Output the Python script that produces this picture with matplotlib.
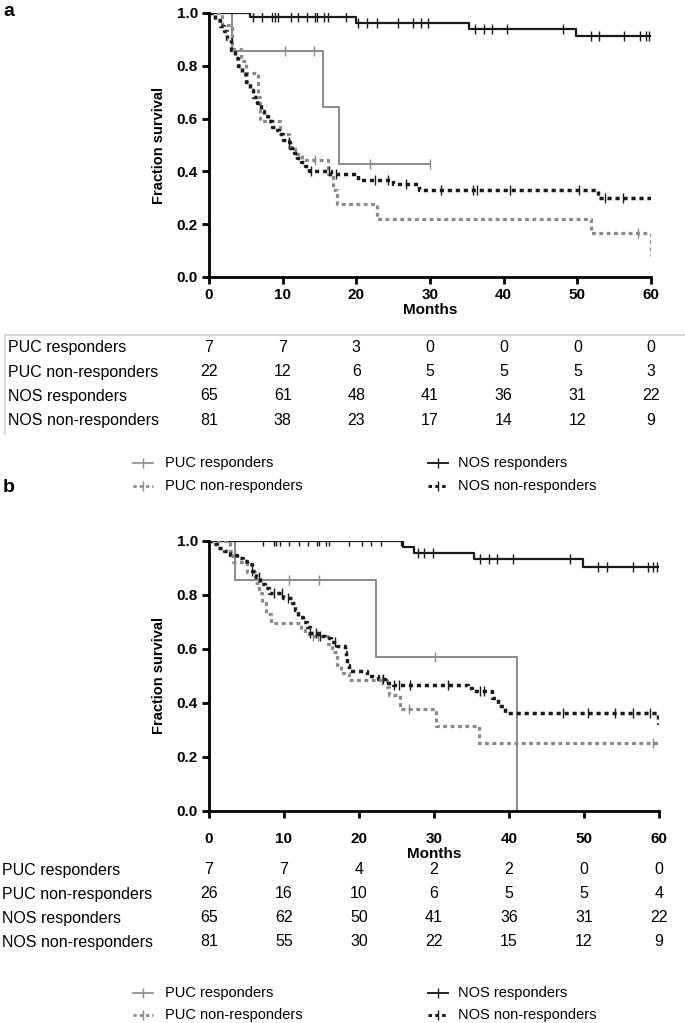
import numpy as np
import matplotlib
matplotlib.use("Agg")
import matplotlib.pyplot as plt
from matplotlib.lines import Line2D
from matplotlib.transforms import blended_transform_factory

plt.rcParams['font.family'] = ['Liberation Sans', 'DejaVu Sans']

W, H = 685, 1023

# ---------------- data ----------------
months = [0, 10, 20, 30, 40, 50, 60]
groups = ["PUC responders", "PUC non-responders", "NOS responders", "NOS non-responders"]

# panel a
a_puc_r_t = [0, 3.1, 15.5, 17.7, 30]
a_puc_r_s = [1.0, 0.857, 0.643, 0.429, 0.429]
a_puc_r_c = [10.3, 14.3, 21.9, 30]

a_puc_n_t = [0, 1.7, 3.1, 4.3, 5.0, 6.6, 6.9, 9.7, 10.9, 11.7, 12.6, 16.2, 16.8, 17.4, 22.8, 51.8, 60]
a_puc_n_s = [1.0, 0.955, 0.864, 0.818, 0.773, 0.682, 0.591, 0.542, 0.492, 0.465, 0.443, 0.39, 0.33, 0.275, 0.22, 0.165, 0.08]
a_puc_n_c = [14.4, 58.3]

a_nos_r_t = [0, 5.5, 20, 35.3, 49.8, 60]
a_nos_r_s = [1.0, 0.985, 0.963, 0.94, 0.912, 0.912]
a_nos_r_c = [6.0, 7.2, 8.5, 8.9, 9.3, 11.1, 12.1, 13.3, 14.4, 14.7, 15.6, 16.2, 18.6,
             20.2, 21.4, 22.8, 25.6, 27.7, 28.8, 29.7, 36.1, 37.3, 38.4, 40.4, 48.0,
             51.8, 52.9, 56.4, 58.5, 59.3, 59.7]

a_nos_n_t = [0, 0.8, 1.5, 2.0, 2.5, 3.0, 3.5, 4.0, 4.5, 5.0, 5.5, 6.0, 6.5, 7.0, 7.5, 8.0,
             8.5, 9.0, 9.5, 10.0, 10.5, 11.0, 11.5, 12.0, 12.5, 13.0, 13.6, 16.5, 20.2,
             25.0, 28.5, 52.8, 60]
a_nos_n_s = [1.0, 0.975, 0.95, 0.93, 0.90, 0.86, 0.83, 0.80, 0.77, 0.74, 0.71, 0.68, 0.66,
             0.63, 0.61, 0.59, 0.57, 0.555, 0.54, 0.52, 0.51, 0.49, 0.47, 0.45, 0.435, 0.42,
             0.40, 0.389, 0.367, 0.351, 0.328, 0.298, 0.298]
a_nos_n_c = [10.8, 13.8, 16.3, 17.3, 22.5, 24.3, 26.8, 31.5, 35.9, 36.4, 40.9, 50.2, 53.7, 56.2]

a_risk = [[7, 7, 3, 0, 0, 0, 0],
          [22, 12, 6, 5, 5, 5, 3],
          [65, 61, 48, 41, 36, 31, 22],
          [81, 38, 23, 17, 14, 12, 9]]

# panel b
b_puc_r_t = [0, 3.4, 22.2, 41.0]
b_puc_r_s = [1.0, 0.857, 0.571, 0.0]
b_puc_r_c = [2.6, 10.6, 14.6, 30.1]

b_puc_n_t = [0, 2.8, 3.2, 5.0, 6.1, 6.6, 7.1, 7.6, 8.2, 12.2, 12.8, 13.3, 15.9, 16.4, 17.0,
             17.6, 18.7, 23.7, 24.0, 25.5, 30.3, 36.0, 60]
b_puc_n_s = [1.0, 0.962, 0.923, 0.885, 0.846, 0.808, 0.769, 0.731, 0.697, 0.672, 0.66, 0.649,
             0.62, 0.59, 0.54, 0.51, 0.486, 0.458, 0.431, 0.378, 0.314, 0.252, 0.252]
b_puc_n_c = [13.8, 14.5, 23.0, 26.6, 59.2]

b_nos_r_t = [0, 25.9, 27.3, 35.3, 49.9, 60]
b_nos_r_s = [1.0, 0.979, 0.957, 0.932, 0.903, 0.903]
b_nos_r_c = [7.2, 8.6, 8.9, 9.4, 10.7, 12.0, 13.2, 14.4, 14.7, 15.6, 16.0, 18.7, 20.4, 21.6,
             22.9, 25.6, 27.9, 28.7, 29.8, 36.1, 37.3, 38.4, 40.5, 48.1, 51.9, 53.1, 56.5,
             58.5, 59.2, 59.7]

b_nos_n_t = [0, 0.5, 1.0, 2.0, 2.8, 3.7, 4.5, 5.0, 5.7, 6.3, 6.8, 7.5, 8.0, 9.8, 11.0, 11.5,
             11.9, 12.5, 13.0, 13.5, 14.5, 15.5, 16.3, 17.0, 18.1, 18.2, 18.4, 18.6, 21.0,
             22.5, 23.5, 24.5, 34.5, 35.0, 37.7, 38.5, 39.5, 59.8, 60]
b_nos_n_s = [1.0, 0.988, 0.975, 0.963, 0.95, 0.938, 0.926, 0.914, 0.89, 0.865, 0.84, 0.825,
             0.807, 0.79, 0.77, 0.745, 0.72, 0.70, 0.68, 0.66, 0.65, 0.64, 0.625, 0.61, 0.59,
             0.565, 0.54, 0.52, 0.50, 0.49, 0.475, 0.467, 0.455, 0.443, 0.42, 0.39, 0.364,
             0.325, 0.325]
b_nos_n_c = [5.7, 6.6, 8.6, 9.7, 10.5, 13.5, 14.2, 14.8, 16.8, 23.2, 24.6, 25.3, 26.8, 31.9,
             36.1, 36.7, 47.2, 50.5, 54.1, 56.5, 58.8]

b_risk = [[7, 7, 4, 2, 2, 0, 0],
          [26, 16, 10, 6, 5, 5, 4],
          [65, 62, 50, 41, 36, 31, 22],
          [81, 55, 30, 22, 15, 12, 9]]

# ---------------- styles ----------------
GRAY = '#8a8a8a'
BLACK = '#1a1a1a'
styles = [
    dict(color=GRAY, lw=1.4, ls='-'),
    dict(color=GRAY, lw=2.3, ls=(0, (1.2, 1.1))),
    dict(color=BLACK, lw=1.6, ls='-'),
    dict(color=BLACK, lw=2.5, ls=(0, (1.2, 1.1))),
]


def fx(px):
    return px / W


def fy(py):
    return 1 - py / H


def km(ax, t, s, c, st):
    t = np.asarray(t); s = np.asarray(s); c = np.asarray(c)
    ax.step(t, s, where='post', color=st['color'], lw=st['lw'], ls=st['ls'],
            solid_capstyle='butt', dash_capstyle='butt')
    cy = s[np.searchsorted(t, c, side='right') - 1]
    ax.plot(c, cy, ls='none', marker='|', ms=7, mew=1.0, color=st['color'])


def setup(ax, xpad, mpad):
    ax.set_xlim(0, 60)
    ax.set_ylim(0, 1.0)
    ax.set_xticks(months)
    ax.set_yticks([0.0, 0.2, 0.4, 0.6, 0.8, 1.0])
    ax.set_yticklabels(['0.0', '0.2', '0.4', '0.6', '0.8', '1.0'])
    for sp in ['top', 'right']:
        ax.spines[sp].set_visible(False)
    for sp in ['left', 'bottom']:
        ax.spines[sp].set_linewidth(2.0)
    ax.tick_params(width=2.0, length=5, labelsize=11, pad=3)
    ax.tick_params(axis='x', pad=xpad)
    for lab in ax.get_xticklabels() + ax.get_yticklabels():
        lab.set_fontweight('bold')
    ax.set_ylabel('Fraction survival', fontsize=10.5, fontweight='bold', labelpad=8)
    ax.set_xlabel('Months', fontsize=11, fontweight='bold', labelpad=mpad)


def risk_table(ax, risk, rows_py, label_px):
    tr = blended_transform_factory(ax.transData, fig.transFigure)
    for r, (name, vals) in enumerate(zip(groups, risk)):
        fig.text(fx(label_px), fy(rows_py[r]), name, fontsize=11.5, va='center', ha='left')
        for m, v in zip(months, vals):
            ax.text(m, fy(rows_py[r]), str(v), transform=tr, fontsize=11.5,
                    va='center', ha='center', clip_on=False)


def legend(rows_py):
    cols = [(133, 153, 165), (428, 448, 458)]
    order = [(0, 0, 0), (1, 0, 1), (2, 1, 0), (3, 1, 1)]
    for gi, ci, ri in order:
        x0, x1, xt = cols[ci]
        st = styles[gi]
        y = fy(rows_py[ri])
        fig.add_artist(Line2D([fx(x0), fx(x1)], [y, y], transform=fig.transFigure,
                              color=st['color'], lw=st['lw'] * 0.85, ls=st['ls']))
        fig.add_artist(Line2D([fx((x0 + x1) / 2)], [y], transform=fig.transFigure,
                              marker='|', ms=7, mew=1.0, color=st['color'], ls='none'))
        fig.text(fx(xt), y, groups[gi], fontsize=10.5, va='center', ha='left')


fig = plt.figure(figsize=(W / 100, H / 100), dpi=100)

# panel a
ax_a = fig.add_axes([fx(209), fy(277), fx(442), 264 / H])
km(ax_a, a_puc_r_t, a_puc_r_s, a_puc_r_c, styles[0])
km(ax_a, a_nos_r_t, a_nos_r_s, a_nos_r_c, styles[2])
km(ax_a, a_puc_n_t, a_puc_n_s, a_puc_n_c, styles[1])
km(ax_a, a_nos_n_t, a_nos_n_s, a_nos_n_c, styles[3])
setup(ax_a, 3, 0.5)
risk_table(ax_a, a_risk, [348, 372, 396, 420], 8)
fig.add_artist(Line2D([fx(5), fx(684)], [fy(335), fy(335)], transform=fig.transFigure,
                      color='#cfcfcf', lw=1.2))
fig.add_artist(Line2D([fx(5), fx(5)], [fy(335), fy(434)], transform=fig.transFigure,
                      color='#cfcfcf', lw=1.2))
legend([463, 486])
fig.text(fx(3), fy(12), 'a', fontsize=14, fontweight='bold', va='center', ha='left')

# panel b
ax_b = fig.add_axes([fx(209), fy(811), fx(450), 270 / H])
km(ax_b, b_puc_r_t, b_puc_r_s, b_puc_r_c, styles[0])
km(ax_b, b_nos_r_t, b_nos_r_s, b_nos_r_c, styles[2])
km(ax_b, b_puc_n_t, b_puc_n_s, b_puc_n_c, styles[1])
km(ax_b, b_nos_n_t, b_nos_n_s, b_nos_n_c, styles[3])
setup(ax_b, 10, 0.5)
risk_table(ax_b, b_risk, [870, 894, 918, 942], 2)
legend([993, 1015])
fig.text(fx(3), fy(487), 'b', fontsize=14, fontweight='bold', va='center', ha='left')

fig.savefig('out.png', dpi=100)
